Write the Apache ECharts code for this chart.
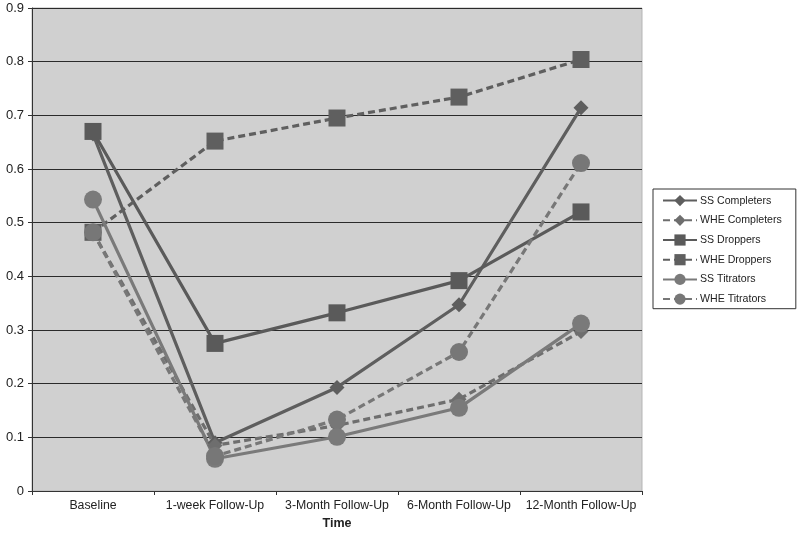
<!DOCTYPE html>
<html><head><meta charset="utf-8">
<script src="https://cdn.jsdelivr.net/npm/echarts@6/dist/echarts.min.js"></script>
<style>html,body{margin:0;padding:0;background:#fff}#c{width:800px;height:534px}</style>
</head><body><div id="c"></div>
<script>
const categories = ['Baseline','1-week Follow-Up','3-Month Follow-Up','6-Month Follow-Up','12-Month Follow-Up'];
const ssCompleters  = [0.665, 0.09, 0.193, 0.347, 0.714];
const wheCompleters = [0.482, 0.085, 0.122, 0.171, 0.297];
const ssDroppers    = [0.670, 0.275, 0.332, 0.392, 0.520];
const wheDroppers   = [0.482, 0.652, 0.695, 0.734, 0.804];
const ssTitrators   = [0.543, 0.060, 0.101, 0.155, 0.312];
const wheTitrators  = [0.482, 0.065, 0.133, 0.259, 0.611];
const yTicks = [0, 0.9, 0.1];

function s(name, data, dashed, symbol, size, color) {
  return {
    name, type: 'line', data, symbol, symbolSize: size,
    lineStyle: {color, width: 3.2, type: dashed ? [7, 4] : 'solid'},
    itemStyle: {color},
    emphasis: {disabled: true}
  };
}
const chart = echarts.init(document.getElementById('c'), null, {renderer: 'canvas'});
chart.setOption({
  animation: false,
  textStyle: {fontFamily: 'Liberation Sans, Arial, sans-serif'},
  grid: {left: 32, right: 158, top: 8, bottom: 43, outerBoundsMode: 'none', containLabel: false,
         show: true, backgroundColor: '#d0d0d0', borderWidth: 1, borderColor: '#b5b5b5'},
  legend: {
    orient: 'vertical', left: 653, top: 189,
    backgroundColor: '#fff', borderColor: '#333', borderWidth: 1,
    padding: [6, 14, 4, 9], itemGap: 8.5, itemWidth: 34, itemHeight: 14,
    textStyle: {fontSize: 10.6, color: '#222', padding: [0, 0, 0, -2]},
    data: ['SS Completers','WHE Completers','SS Droppers','WHE Droppers','SS Titrators','WHE Titrators']
  },
  xAxis: {
    type: 'category', data: categories, boundaryGap: true,
    name: 'Time', nameLocation: 'middle', nameGap: 26,
    nameTextStyle: {fontWeight: 'bold', fontSize: 12.5, color: '#222'},
    axisLine: {lineStyle: {color: '#333', width: 1}},
    axisTick: {show: true, alignWithLabel: false, length: 4, lineStyle: {color: '#333'}},
    axisLabel: {fontSize: 12.3, color: '#222', margin: 9, interval: 0}
  },
  yAxis: {
    type: 'value', min: yTicks[0], max: yTicks[1], interval: yTicks[2],
    axisLine: {show: true, lineStyle: {color: '#333', width: 1}},
    axisTick: {show: true, length: 4, lineStyle: {color: '#333'}},
    axisLabel: {fontSize: 13, color: '#222', margin: 8},
    splitLine: {lineStyle: {color: '#2a2a2a', width: 1.2}}
  },
  series: [
    s('SS Completers', ssCompleters, false, 'diamond', 15, '#5e5e5e'),
    s('WHE Completers', wheCompleters, true, 'diamond', 15, '#6e6e6e'),
    s('SS Droppers', ssDroppers, false, 'rect', 17, '#5a5a5a'),
    s('WHE Droppers', wheDroppers, true, 'rect', 17, '#5f5f5f'),
    s('SS Titrators', ssTitrators, false, 'circle', 18, '#7a7a7a'),
    s('WHE Titrators', wheTitrators, true, 'circle', 18, '#777777')
  ]
});
</script></body></html>
